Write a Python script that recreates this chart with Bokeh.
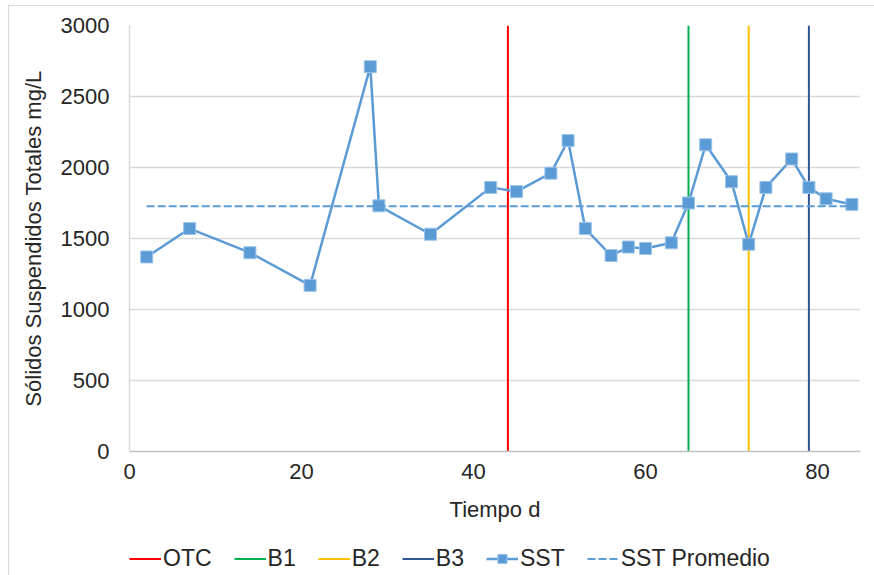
from bokeh.plotting import figure
from bokeh.layouts import column
from bokeh.models import Range1d, FixedTicker, Legend, LegendItem
from bokeh.embed import file_html
from bokeh.resources import INLINE

# Total suspended solids over time
dias = [2, 7, 14, 21, 28, 29, 35, 42, 45, 49, 51, 53, 56, 58, 60, 63,
        65, 67, 70, 72, 74, 77, 79, 81, 84]
sst = [1370, 1570, 1400, 1170, 2710, 1730, 1530, 1860, 1830, 1960, 2190,
       1570, 1380, 1440, 1430, 1470, 1750, 2160, 1900, 1460, 1860, 2060,
       1860, 1780, 1740]

# Mean SST, drawn across the sampled period
sst_promedio = 1727
promedio_x = [2, 84]

# Event markers (day)
eventos = ["OTC", "B1", "B2", "B3"]
eventos_dia = [44, 65, 72, 79]
eventos_color = ["#FF0000", "#00B050", "#FFC000", "#2F5597"]

x_ticks = [0, 20, 40, 60, 80]
y_ticks = [0, 500, 1000, 1500, 2000, 2500, 3000]

FONT = "Liberation Sans"
TEXT = "#262626"
SST_COLOR = "#5B9BD5"
SQUARE_EDGE = "#9cc3e8"

p = figure(frame_width=731, frame_height=426, output_backend="svg",
           toolbar_location=None,
           x_range=Range1d(0, 85), y_range=Range1d(0, 3000),
           min_border_left=120, min_border_right=14,
           min_border_top=19, min_border_bottom=92)
p.outline_line_color = None

for dia, color in zip(eventos_dia, eventos_color):
    p.line([dia, dia], [0, 3000], line_color=color, line_width=2)

p.line(dias, sst, line_color=SST_COLOR, line_width=2.5)
p.scatter(dias, sst, marker="square", size=12,
          fill_color=SST_COLOR, line_color=SQUARE_EDGE, line_width=1)
p.line(promedio_x, [sst_promedio, sst_promedio], line_color=SST_COLOR,
       line_width=2, line_dash="8 3")

p.xgrid.grid_line_color = None
p.ygrid.grid_line_color = "#d9d9d9"
p.ygrid.grid_line_width = 1.5

p.xaxis.ticker = FixedTicker(ticks=x_ticks)
p.yaxis.ticker = FixedTicker(ticks=y_ticks)
p.xaxis.axis_label = "Tiempo d"
p.yaxis.axis_label = "Sólidos Suspendidos Totales mg/L"

for ax in (p.xaxis[0], p.yaxis[0]):
    ax.major_tick_line_color = None
    ax.minor_tick_line_color = None
    ax.major_label_text_font = FONT
    ax.major_label_text_font_size = "22px"
    ax.major_label_text_color = TEXT
    ax.axis_label_text_font = FONT
    ax.axis_label_text_font_size = "22px"
    ax.axis_label_text_font_style = "normal"
    ax.axis_label_text_color = TEXT

p.xaxis.axis_line_color = "#bfbfbf"
p.xaxis.axis_line_width = 1.5
p.yaxis.axis_line_color = "#d9d9d9"
p.yaxis.axis_line_width = 1.5
p.xaxis.major_label_standoff = 6
p.xaxis.axis_label_standoff = 15
p.yaxis.major_label_standoff = 14
p.yaxis.axis_label_standoff = 12

# Legend strip below the chart; its renderers only carry the styles
# (their single point lies outside the strip's ranges)
leg = figure(width=865, height=32, output_backend="svg", toolbar_location=None,
             x_axis_type=None, y_axis_type=None,
             x_range=Range1d(0, 1), y_range=Range1d(0, 1),
             min_border_left=0, min_border_right=0,
             min_border_top=0, min_border_bottom=0)
leg.outline_line_color = None
fuera = [-5, -6]

items = []
for nombre, color in zip(eventos, eventos_color):
    r = leg.line(fuera, fuera, line_color=color, line_width=2)
    items.append(LegendItem(label=nombre, renderers=[r]))
l_sst = leg.line(fuera, fuera, line_color=SST_COLOR, line_width=2.5)
s_sst = leg.scatter(fuera, fuera, marker="square", size=12,
                    fill_color=SST_COLOR, line_color=SQUARE_EDGE, line_width=1)
items.append(LegendItem(label="SST", renderers=[l_sst, s_sst]))
l_prom = leg.line(fuera, fuera, line_color=SST_COLOR, line_width=2,
                  line_dash="8 3")
items.append(LegendItem(label="SST Promedio", renderers=[l_prom]))

legend = Legend(items=items, orientation="horizontal", location=(0, 3),
                label_text_font=FONT, label_text_font_size="23px",
                label_text_color=TEXT, glyph_width=32, glyph_height=23,
                label_height=23, label_standoff=2, spacing=22,
                padding=0, margin=0, border_line_color=None,
                background_fill_alpha=0)
leg.add_layout(legend, "center")

layout = column(p, leg, spacing=0)
layout.styles = {"border-left": "1px solid #d9d9d9",
                 "border-top": "1px solid #d9d9d9",
                 "margin-left": "8px", "margin-top": "5px"}

open("out.html", "w").write(file_html(layout, INLINE))
